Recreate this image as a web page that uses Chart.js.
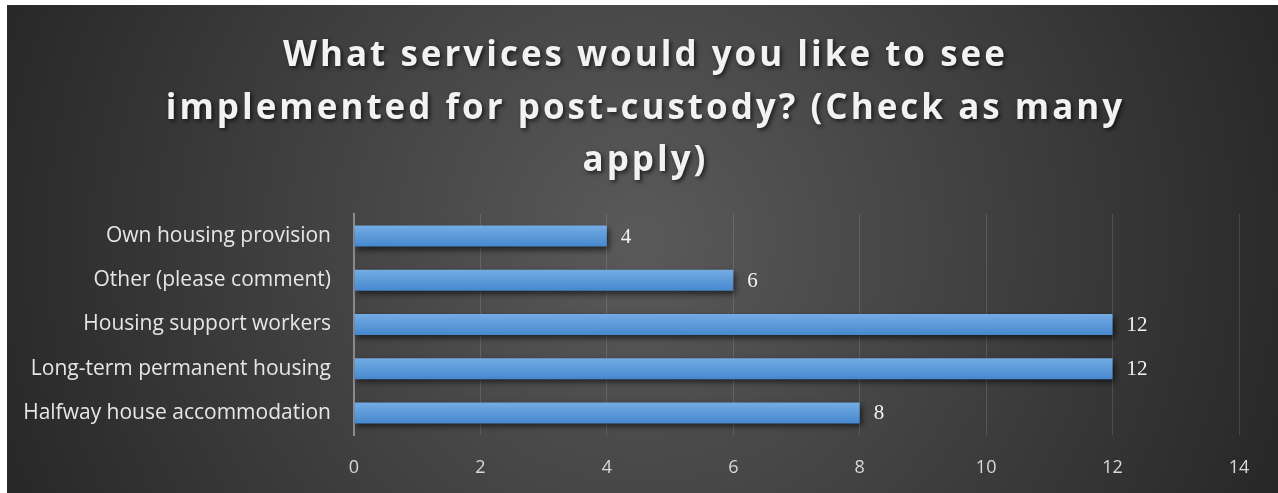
<!DOCTYPE html>
<html>
<head>
<meta charset="utf-8">
<script src="https://cdn.jsdelivr.net/npm/chart.js@4.4.1/dist/chart.umd.min.js"></script>
<style>
  html, body { margin: 0; padding: 0; background: #ffffff; }
  #wrap { position: absolute; left: 7px; top: 5px; width: 1271px; height: 488px; }
</style>
</head>
<body>
<div id="wrap"><canvas id="chart"></canvas></div>
<script>
// Survey answers: services wanted after custody
const titleLines = [
  'What services would you like to see',
  'implemented for post-custody? (Check as many',
  'apply)'
];
const categories = [
  'Own housing provision',
  'Other (please comment)',
  'Housing support workers',
  'Long-term permanent housing',
  'Halfway house accommodation'
];
const responses = [4, 6, 12, 12, 8];
const axisMin = 0;
const axisMax = 14;
const axisStep = 2;

// Dark radial backdrop behind the whole chart
const backdrop = {
  id: 'backdrop',
  beforeDraw(chart) {
    const { ctx, width, height } = chart;
    const g = ctx.createRadialGradient(633, 235, 0, 633, 235, 700);
    g.addColorStop(0, '#5a5a5a');
    g.addColorStop(1, '#262626');
    ctx.save();
    ctx.fillStyle = g;
    ctx.fillRect(0, 0, width, height);
    ctx.restore();
  }
};

// Spaced, shadowed bold heading
const heading = {
  id: 'heading',
  afterDraw(chart) {
    const { ctx, width } = chart;
    ctx.save();
    ctx.font = 'bold 35px "Open Sans"';
    ctx.letterSpacing = '3px';
    ctx.fillStyle = '#f2f2f2';
    ctx.textAlign = 'center';
    ctx.textBaseline = 'alphabetic';
    ctx.shadowColor = 'rgba(0,0,0,0.65)';
    ctx.shadowBlur = 4;
    ctx.shadowOffsetX = 2;
    ctx.shadowOffsetY = 2;
    const cx = width / 2 + 3;
    titleLines.forEach((line, i) => {
      ctx.fillText(line, cx, 61 + i * 52.5);
    });
    ctx.restore();
  }
};

// Soft drop shadow under the bars
const barShadow = {
  id: 'barShadow',
  beforeDatasetsDraw(chart) {
    const ctx = chart.ctx;
    ctx.save();
    ctx.shadowColor = 'rgba(0,0,0,0.6)';
    ctx.shadowBlur = 6;
    ctx.shadowOffsetX = 2;
    ctx.shadowOffsetY = 3;
  },
  afterDatasetsDraw(chart) {
    chart.ctx.restore();
  }
};

// Value printed just past the end of each bar
const valueLabels = {
  id: 'valueLabels',
  afterDatasetsDraw(chart) {
    const { ctx } = chart;
    const meta = chart.getDatasetMeta(0);
    ctx.save();
    ctx.font = '21px "Liberation Serif"';
    ctx.fillStyle = '#f2f2f2';
    ctx.textAlign = 'left';
    ctx.textBaseline = 'middle';
    meta.data.forEach((bar, i) => {
      ctx.fillText(String(responses[i]), bar.x + 14, bar.y + 1);
    });
    ctx.restore();
  }
};

function barFill(context) {
  const chart = context.chart;
  const y = chart.scales.y;
  if (!y || !chart.chartArea) return '#5b9bd5';
  const cy = y.getPixelForValue(context.dataIndex);
  const g = chart.ctx.createLinearGradient(0, cy - 10.5, 0, cy + 10.5);
  g.addColorStop(0, '#74ace4');
  g.addColorStop(1, '#4688ce');
  return g;
}

new Chart(document.getElementById('chart'), {
  type: 'bar',
  data: {
    labels: categories,
    datasets: [{
      data: responses,
      backgroundColor: barFill,
      borderWidth: 0,
      barPercentage: 0.475,
      categoryPercentage: 1
    }]
  },
  options: {
    indexAxis: 'y',
    responsive: true,
    maintainAspectRatio: false,
    animation: false,
    layout: { padding: { top: 209, right: 39, bottom: 0, left: 0 } },
    plugins: {
      legend: { display: false },
      title: { display: false },
      tooltip: { enabled: false }
    },
    scales: {
      x: {
        min: axisMin,
        max: axisMax,
        ticks: {
          stepSize: axisStep,
          color: '#d9d9d9',
          font: { family: '"Open Sans"', size: 18 },
          padding: 22
        },
        grid: {
          color: 'rgba(255,255,255,0.13)',
          lineWidth: 1,
          drawTicks: false
        },
        border: { display: false },
        afterFit(s) { s.height = 58; }
      },
      y: {
        ticks: {
          color: '#e6e6e6',
          font: { family: '"Open Sans"', size: 21 },
          padding: 23
        },
        grid: { display: false, drawTicks: false },
        border: { display: true, color: '#8a8a8a', width: 2 },
        afterFit(s) { s.width = 347; }
      }
    }
  },
  plugins: [backdrop, barShadow, valueLabels, heading]
});
</script>
</body>
</html>
